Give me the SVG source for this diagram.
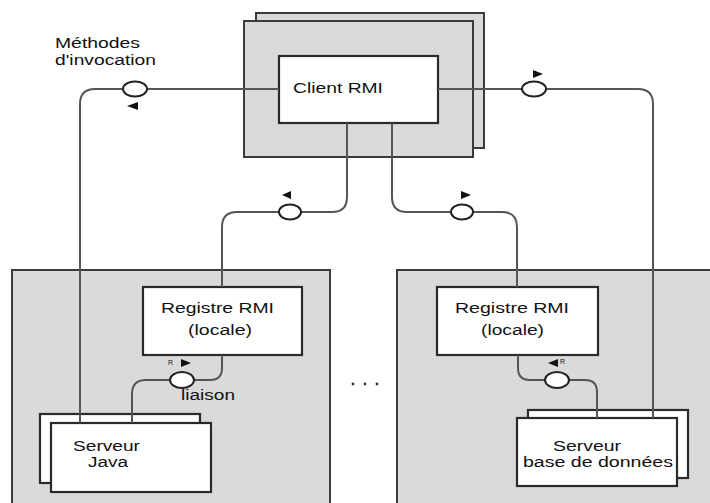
<svg xmlns="http://www.w3.org/2000/svg" width="710" height="503" viewBox="0 0 710 503">
<style>
.gray{fill:#dadada;stroke:#3a3a3a;stroke-width:2}
.box{fill:#ffffff;stroke:#2a2a2a;stroke-width:2.2}
.conn{fill:none;stroke:#555;stroke-width:2}
.port{fill:#ffffff;stroke:#222;stroke-width:2}
.arr{fill:#111;stroke:none}
text{font-family:"Liberation Sans",Arial,sans-serif;font-size:14px;fill:#111}
.small{font-size:7px}
</style>
<rect width="710" height="503" fill="#ffffff"/>
<g id="host-left"><rect class="gray" x="12" y="270" width="318" height="245"/></g>
<g id="host-right"><rect class="gray" x="397" y="270" width="320" height="245"/></g>
<g id="dots"><circle cx="353" cy="384" r="1.4" fill="#333"/><circle cx="365" cy="384" r="1.4" fill="#333"/><circle cx="377" cy="384" r="1.4" fill="#333"/></g>
<g id="client-rmi">
<rect class="gray" x="256" y="13" width="228" height="135"/>
<rect class="gray" x="244" y="21" width="229" height="136"/>
<rect class="box" x="279" y="56" width="159" height="67"/>
<text x="293" y="93" textLength="90" lengthAdjust="spacingAndGlyphs">Client RMI</text>
</g>
<g id="registre-left">
<rect class="box" x="143" y="287" width="159" height="68"/>
<text x="161" y="313" textLength="113" lengthAdjust="spacingAndGlyphs">Registre RMI</text>
<text x="188" y="335" textLength="64" lengthAdjust="spacingAndGlyphs">(locale)</text>
</g>
<g id="registre-right">
<rect class="box" x="437" y="287" width="161" height="68"/>
<text x="455" y="313" textLength="114" lengthAdjust="spacingAndGlyphs">Registre RMI</text>
<text x="481" y="335" textLength="63" lengthAdjust="spacingAndGlyphs">(locale)</text>
</g>
<g id="serveur-java">
<rect class="box" x="40" y="414" width="160" height="69"/>
<rect class="box" x="51" y="423" width="160" height="69"/>
<text x="73" y="451" textLength="67" lengthAdjust="spacingAndGlyphs">Serveur</text>
<text x="88" y="467" textLength="40" lengthAdjust="spacingAndGlyphs">Java</text>
</g>
<g id="serveur-bd">
<rect class="box" x="528" y="410" width="160" height="68"/>
<rect class="box" x="517" y="418" width="160" height="68"/>
<text x="553" y="451" textLength="68" lengthAdjust="spacingAndGlyphs">Serveur</text>
<text x="523" y="467" textLength="150" lengthAdjust="spacingAndGlyphs">base de données</text>
</g>
<g id="connectors">
<path class="conn" d="M279,89 H95 Q80,89 80,104 V423"/>
<path class="conn" d="M438,89 H638 Q653,89 653,104 V418"/>
<path class="conn" d="M347,123 V197 Q347,212 332,212 H237 Q222,212 222,227 V287"/>
<path class="conn" d="M392,123 V197 Q392,212 407,212 H502 Q517,212 517,227 V287"/>
<path class="conn" d="M222,355 V368 Q222,380 210,380 H146 Q132,380 132,394 V423"/>
<path class="conn" d="M518,355 V368 Q518,380 530,380 H585 Q597,380 597,392 V418"/>
<ellipse class="port" cx="135" cy="89" rx="12" ry="7.5"/>
<ellipse class="port" cx="534" cy="89" rx="12" ry="7.5"/>
<ellipse class="port" cx="290" cy="212" rx="11" ry="7.5"/>
<ellipse class="port" cx="462" cy="212" rx="11" ry="7.5"/>
<ellipse class="port" cx="182" cy="380" rx="12" ry="8"/>
<ellipse class="port" cx="557" cy="380" rx="12" ry="8"/>
<polygon class="arr" points="127,106 138,102 138,110"/>
<polygon class="arr" points="533,70 543,74 533,78"/>
<polygon class="arr" points="282,195 291,191 291,199"/>
<polygon class="arr" points="461,191 471,195 461,199"/>
<polygon class="arr" points="181,359 191,363 181,367"/>
<polygon class="arr" points="548,363 558,359 558,367"/>
</g>
<g id="labels">
<text x="55" y="48" textLength="85" lengthAdjust="spacingAndGlyphs">Méthodes</text>
<text x="55" y="65" textLength="101" lengthAdjust="spacingAndGlyphs">d'invocation</text>
<text x="181" y="400" textLength="54" lengthAdjust="spacingAndGlyphs">liaison</text>
<text class="small" x="168" y="365">R</text>
<text class="small" x="560" y="364">R</text>
</g>
</svg>
